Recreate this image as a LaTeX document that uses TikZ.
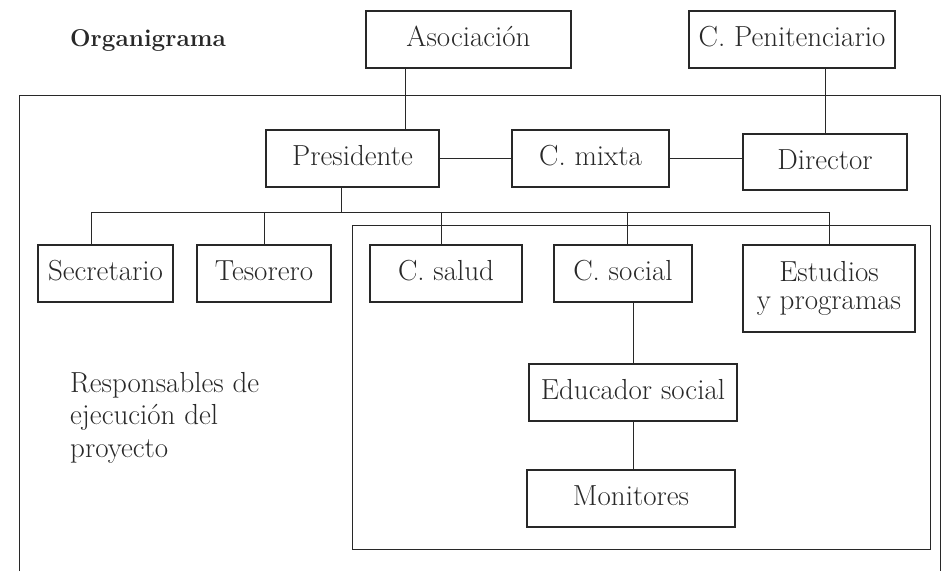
\documentclass[tikz,border=0pt]{standalone}
\usepackage{fontspec}
\definecolor{ink}{RGB}{40,40,40}
\begin{document}
\begin{tikzpicture}[x=1pt,y=1pt,
  box/.style={draw=ink, line width=1.5pt, inner sep=0pt, minimum height=57pt,
    text height=20pt, text depth=5.6pt, font=\fontsize{29}{32}\selectfont, text=ink},
  link/.style={draw=ink, line width=1pt},
  framebox/.style={draw=ink, line width=1pt},
  txt/.style={inner sep=0pt, font=\fontsize{29}{32}\selectfont, text=ink}]
\useasboundingbox (0,0) rectangle (943,-571);
% frames
\draw[framebox] (19,-571) -- (19,-95) -- (940,-95) -- (940,-571);
\draw[framebox] (352,-225) rectangle (930,-549);
% title
\node[txt, anchor=base west, font=\bfseries\fontsize{24.3}{28}\selectfont] (title) at (70,-46) {Organigrama};
% boxes
\node[box, minimum width=205pt] (asoc) at (468.5,-39.5) {Asociación};
\node[box, minimum width=206pt] (penit) at (792,-39.5) {C. Penitenciario};
\node[box, minimum width=173pt] (pres) at (352.5,-158.5) {Presidente};
\node[box, minimum width=157pt] (mixta) at (590.5,-158.5) {C. mixta};
\node[box, minimum width=164pt, minimum height=56pt] (dir) at (825,-162) {Director};
\node[box, minimum width=135pt] (sec) at (105.5,-273.5) {Secretario};
\node[box, minimum width=134pt] (tes) at (264,-273.5) {Tesorero};
\node[box, minimum width=152pt] (salud) at (446,-273.5) {C. salud};
\node[box, minimum width=138pt] (soc) at (623,-273.5) {C. social};
\node[box, minimum width=172pt, minimum height=87pt, text height=, text depth=, align=center,
  font=\fontsize{29}{28}\selectfont] (stud) at (829,-288.5) {Estudios\\y programas};
\node[box, minimum width=208pt] (edu) at (633,-392.5) {Educador social};
\node[box, minimum width=208pt] (mon) at (631,-498.5) {Monitores};
% side text
\node[txt, anchor=base west] (r1) at (70,-392) {Responsables de};
\node[txt, anchor=base west] (r2) at (70,-424.5) {ejecución del};
\node[txt, anchor=base west] (r3) at (70,-457) {proyecto};
% connectors
\coordinate (jx) at (405,0);
\coordinate (px) at (341,0);
\coordinate (bus) at (0,-212);
\draw[link] (asoc.south -| jx) -- (pres.north -| jx);
\draw[link] (penit.south -| dir.north) -- (dir.north);
\draw[link] (pres.east) -- (mixta.west);
\draw[link] (mixta.east) -- (mixta.east -| dir.west);
\draw[link] (pres.south -| px) -- (bus -| px);
\draw[link] ([xshift=-14.5pt]sec.north) |- (bus -| stud.north) -- ([xshift=0pt]stud.north);
\draw[link] (tes.north) -- (tes.north |- bus);
\draw[link] ([xshift=-5pt]salud.north) -- ([xshift=-5pt]salud.north |- bus);
\draw[link] ([xshift=4pt]soc.north) -- ([xshift=4pt]soc.north |- bus);
\draw[link] (soc.south -| edu.north) -- (edu.north);
\draw[link] (edu.south) -- (mon.north -| edu.south);
\end{tikzpicture}
\end{document}
